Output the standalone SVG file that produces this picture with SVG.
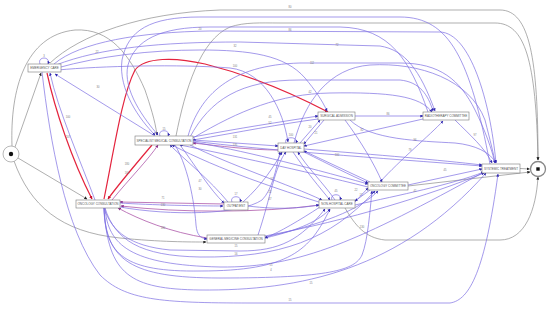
<svg xmlns="http://www.w3.org/2000/svg" width="550" height="309" viewBox="0 0 550 309">
<defs>
<style>
.e{fill:none;stroke-width:0.7}
.b{stroke:#7d6fe2}
.p{stroke:#a2409e}
.r{stroke:#e4243e;stroke-width:1.2}
.g{stroke:#8c8c8c}
.n rect{fill:#fff;stroke:#7a7a7a;stroke-width:0.6}
.n text{font-family:"Liberation Sans",Arial,sans-serif;font-size:3px;fill:#555;text-anchor:middle;dominant-baseline:central}
.l{font-family:"Liberation Sans",Arial,sans-serif;font-size:2.6px;fill:#777;text-anchor:middle}
</style>
<marker id="ab" viewBox="0 0 10 10" refX="9" refY="5" markerWidth="3" markerHeight="3" markerUnits="userSpaceOnUse" orient="auto"><path d="M0,0L10,5L0,10z" fill="#2f27b0"/></marker>
<marker id="ap" viewBox="0 0 10 10" refX="9" refY="5" markerWidth="3" markerHeight="3" markerUnits="userSpaceOnUse" orient="auto"><path d="M0,0L10,5L0,10z" fill="#8a2c8a"/></marker>
<marker id="ar" viewBox="0 0 10 10" refX="9" refY="5" markerWidth="3.4" markerHeight="3.4" markerUnits="userSpaceOnUse" orient="auto"><path d="M0,0L10,5L0,10z" fill="#c8102e"/></marker>
<marker id="ag" viewBox="0 0 10 10" refX="9" refY="5" markerWidth="3" markerHeight="3" markerUnits="userSpaceOnUse" orient="auto"><path d="M0,0L10,5L0,10z" fill="#222"/></marker>
</defs>
<rect width="550" height="309" fill="#fff"/>
<g id="connectors">
<!-- gray -->
<path class="e g" d="M15,147 L41,73" marker-end="url(#ag)"/>
<path class="e g" d="M12,146 C10,90 25,35 75,30 C110,28 130,55 145,90 C150,105 155,120 157,135" marker-end="url(#ag)"/>
<path class="e g" d="M18,158 L87,199" marker-end="url(#ag)"/>
<path class="e g" d="M14,161 C30,205 60,232 120,238 C160,242 190,242 206,242" marker-end="url(#ag)"/>
<path class="e g" d="M176,136 C185,90 200,40 230,27 C245,22 260,23 280,23 L495,23 C525,23 536,60 538,160" marker-end="url(#ag)"/>
<path class="e g" d="M50,63 C80,35 140,13 220,10 L500,10 C530,10 538,60 538,160" marker-end="url(#ag)"/>
<path class="e g" d="M345,208 C355,225 365,238 385,240 L500,240 C525,240 536,210 538,177" marker-end="url(#ag)"/>
<path class="e g" d="M408,186 L530,172" marker-end="url(#ag)"/>
<path class="e g" d="M520,168.5 L529.5,169" marker-end="url(#ag)"/>
<!-- red -->
<path class="e r" d="M47,73 C55,110 72,160 92,199" marker-end="url(#ar)"/>
<path class="e r" d="M104,199 C114,150 122,95 135,70 C145,57 175,57 205,64 C245,74 290,92 328,112" marker-end="url(#ar)"/>
<path class="e r" d="M152,145 C135,165 118,185 108,199" marker-end="url(#ar)"/>
<!-- purple -->
<path class="e p" d="M112,200 C130,178 148,160 158,145" marker-end="url(#ap)"/>
<path class="e p" d="M278,150 C250,150 220,146 193,143" marker-end="url(#ap)"/>
<path class="e p" d="M224,204 L120,202" marker-end="url(#ap)"/>
<path class="e p" d="M320,205 C260,213 180,213 121,206" marker-end="url(#ap)"/>
<path class="e p" d="M207,238 C170,232 140,220 118,208" marker-end="url(#ap)"/>
<!-- blue -->
<path class="e b" d="M54,64 C80,42 140,32 210,31 L440,32 C470,33 490,100 496,163" marker-end="url(#ab)"/>
<path class="e b" d="M56,65 C100,48 160,42 240,42 L380,46 C405,50 420,70 435,111" marker-end="url(#ab)"/>
<path class="e b" d="M57,68 C100,56 150,50 200,50 C250,50 285,55 305,78 C315,90 322,100 327,111" marker-end="url(#ab)"/>
<path class="e b" d="M58,70 C100,66 180,64 230,68 C265,72 283,110 288,142" marker-end="url(#ab)"/>
<path class="e b" d="M40,64 C37,56 51,56 48,64" marker-end="url(#ab)"/>
<path class="e b" d="M42,72 C50,140 65,230 100,275 C125,300 160,303 250,303 L450,303 C470,300 485,270 498,174" marker-end="url(#ab)"/>
<path class="e b" d="M95,200 C80,160 58,110 50,73" marker-end="url(#ab)"/>
<path class="e b" d="M155,136 L55,74" marker-end="url(#ab)"/>
<path class="e b" d="M490,164 C470,60 450,17 400,17 L200,17 C150,17 128,30 122,60 C118,90 140,120 155,135" marker-end="url(#ab)"/>
<path class="e b" d="M428,112 C410,60 390,28 340,27 L210,27 C160,27 135,40 128,65 C122,90 145,120 158,135" marker-end="url(#ab)"/>
<path class="e b" d="M193,137 C240,128 280,122 318,116" marker-end="url(#ab)"/>
<path class="e b" d="M318,119 C280,124 240,132 193,140" marker-end="url(#ab)"/>
<path class="e b" d="M193,138 C240,110 280,94 330,93 C390,92 420,96 432,112" marker-end="url(#ab)"/>
<path class="e b" d="M190,137 C210,100 240,80 300,80 L400,80 C420,82 428,95 433,111" marker-end="url(#ab)"/>
<path class="e b" d="M188,136 C200,95 230,65 300,63 L400,63 C440,63 460,80 475,110 C485,130 492,150 495,163" marker-end="url(#ab)"/>
<path class="e b" d="M193,140 L278,146" marker-end="url(#ab)"/>
<path class="e b" d="M193,142 C240,150 300,165 368,184" marker-end="url(#ab)"/>
<path class="e b" d="M193,141 C260,150 380,158 482,166" marker-end="url(#ab)"/>
<path class="e b" d="M190,145 C230,165 290,185 322,200" marker-end="url(#ab)"/>
<path class="e b" d="M180,145 C195,165 210,190 224,203" marker-end="url(#ab)"/>
<path class="e b" d="M175,145 C190,170 195,210 196,225 C197,235 200,238 207,239" marker-end="url(#ab)"/>
<path class="e b" d="M160,136 C157,129 171,129 168,136" marker-end="url(#ab)"/>
<path class="e b" d="M322,203 C280,190 220,170 172,145" marker-end="url(#ab)"/>
<path class="e b" d="M368,187 C300,170 230,155 180,145" marker-end="url(#ab)"/>
<path class="e b" d="M228,202 C210,180 185,160 170,145" marker-end="url(#ab)"/>
<path class="e b" d="M286,143 C283,136 299,136 296,143" marker-end="url(#ab)"/>
<path class="e b" d="M300,143 L320,120" marker-end="url(#ab)"/>
<path class="e b" d="M324,120 L304,144" marker-end="url(#ab)"/>
<path class="e b" d="M423,119 L304,146" marker-end="url(#ab)"/>
<path class="e b" d="M304,149 C380,155 440,160 482,165" marker-end="url(#ab)"/>
<path class="e b" d="M370,182 L304,151" marker-end="url(#ab)"/>
<path class="e b" d="M304,152 C330,165 350,175 368,183" marker-end="url(#ab)"/>
<path class="e b" d="M335,200 C325,185 305,165 298,152" marker-end="url(#ab)"/>
<path class="e b" d="M293,152 C305,170 320,188 330,200" marker-end="url(#ab)"/>
<path class="e b" d="M243,202 C262,185 275,165 282,152" marker-end="url(#ab)"/>
<path class="e b" d="M258,235 C270,200 275,165 286,152" marker-end="url(#ab)"/>
<path class="e b" d="M120,207 C170,216 240,215 262,200 C272,190 276,170 280,152" marker-end="url(#ab)"/>
<path class="e b" d="M294,143 C305,100 330,68 370,65 C420,62 470,80 485,120 C490,140 494,155 495,163" marker-end="url(#ab)"/>
<path class="e b" d="M120,203 C150,205 200,206 223,206" marker-end="url(#ab)"/>
<path class="e b" d="M104,208 C112,232 130,246 170,250 L240,251 C280,251 300,240 325,209" marker-end="url(#ab)"/>
<path class="e b" d="M105,208 C115,240 140,256 200,257 C280,258 330,240 375,191" marker-end="url(#ab)"/>
<path class="e b" d="M105,208 C108,245 130,265 220,267 C300,268 360,240 484,172" marker-end="url(#ab)"/>
<path class="e b" d="M104,208 C105,255 125,272 200,271 C290,271 310,250 330,209" marker-end="url(#ab)"/>
<path class="e b" d="M104,208 C106,260 130,278 220,278 C330,278 355,270 362,255 C368,240 370,210 372,191" marker-end="url(#ab)"/>
<path class="e b" d="M104,208 C108,275 130,289 200,290 C300,291 400,270 486,173" marker-end="url(#ab)"/>
<path class="e b" d="M265,238 C300,230 320,220 330,209" marker-end="url(#ab)"/>
<path class="e b" d="M265,237 C320,225 360,210 378,191" marker-end="url(#ab)"/>
<path class="e b" d="M265,236 C350,220 430,195 484,173" marker-end="url(#ab)"/>
<path class="e b" d="M320,207 C300,220 280,232 265,238" marker-end="url(#ab)"/>
<path class="e b" d="M332,200 C329,193 343,193 340,200" marker-end="url(#ab)"/>
<path class="e b" d="M355,202 L368,188" marker-end="url(#ab)"/>
<path class="e b" d="M370,190 L355,201" marker-end="url(#ab)"/>
<path class="e b" d="M355,205 C400,195 450,185 484,172" marker-end="url(#ab)"/>
<path class="e b" d="M408,185 L482,169" marker-end="url(#ab)"/>
<path class="e b" d="M380,182 C400,160 430,135 443,121" marker-end="url(#ab)"/>
<path class="e b" d="M345,120 C360,140 375,165 382,182" marker-end="url(#ab)"/>
<path class="e b" d="M350,120 C370,140 420,141 455,143 C475,145 490,152 496,163" marker-end="url(#ab)"/>
<path class="e b" d="M455,120 C470,135 485,148 492,163" marker-end="url(#ab)"/>
<path class="e b" d="M355,116 L423,116" marker-end="url(#ab)"/>
<path class="e b" d="M232,202 C229,195 243,195 240,202" marker-end="url(#ab)"/>
<path class="e b" d="M248,206 C280,210 300,208 319,205" marker-end="url(#ab)"/>
</g>
<g id="edge-labels">
<text class="l" x="290" y="8">80</text>
<text class="l" x="200" y="30">20</text>
<text class="l" x="290" y="31">86</text>
<text class="l" x="235" y="47">32</text>
<text class="l" x="337" y="46">72</text>
<text class="l" x="235" y="67">100</text>
<text class="l" x="312" y="64">112</text>
<text class="l" x="310" y="93">42</text>
<text class="l" x="97" y="53">22</text>
<text class="l" x="98" y="88">30</text>
<text class="l" x="44" y="57">3</text>
<text class="l" x="68" y="118">100</text>
<text class="l" x="68" y="138">207</text>
<text class="l" x="164" y="130">15</text>
<text class="l" x="270" y="118">45</text>
<text class="l" x="270" y="124">52</text>
<text class="l" x="235" y="138">131</text>
<text class="l" x="235" y="146">135</text>
<text class="l" x="291" y="136">100</text>
<text class="l" x="310" y="128">20</text>
<text class="l" x="316" y="134">21</text>
<text class="l" x="388" y="115">86</text>
<text class="l" x="362" y="131">82</text>
<text class="l" x="415" y="141">96</text>
<text class="l" x="475" y="136">97</text>
<text class="l" x="410" y="151">79</text>
<text class="l" x="337" y="156">100</text>
<text class="l" x="127" y="165">180</text>
<text class="l" x="127" y="174">160</text>
<text class="l" x="163" y="199">71</text>
<text class="l" x="163" y="206">130</text>
<text class="l" x="163" y="229">180</text>
<text class="l" x="200" y="182">47</text>
<text class="l" x="200" y="190">30</text>
<text class="l" x="236" y="195">17</text>
<text class="l" x="272" y="180">57</text>
<text class="l" x="270" y="193">22</text>
<text class="l" x="270" y="200">47</text>
<text class="l" x="336" y="192">45</text>
<text class="l" x="356" y="191">22</text>
<text class="l" x="361" y="196">17</text>
<text class="l" x="415" y="192">41</text>
<text class="l" x="445" y="171">45</text>
<text class="l" x="236" y="247">15</text>
<text class="l" x="236" y="255">16</text>
<text class="l" x="271" y="266">15</text>
<text class="l" x="271" y="271">4</text>
<text class="l" x="311" y="284">15</text>
<text class="l" x="290" y="301">15</text>
<text class="l" x="362" y="228">130</text>
</g>
<g id="start"><circle cx="11" cy="154" r="8" fill="#fff" stroke="#888" stroke-width="0.6"/><circle cx="11" cy="154" r="2.2" fill="#111"/></g>
<g id="end"><circle cx="538" cy="169" r="7.5" fill="#fff" stroke="#888" stroke-width="1.3"/><rect x="536.3" y="167.3" width="3.4" height="3.4" fill="#111"/></g>
<g id="emergency-care" class="n"><rect x="28" y="64" width="33" height="8"/><text x="44.5" y="68">EMERGENCY CARE</text></g>
<g id="specialist-medical-consultation" class="n"><rect x="135" y="136" width="58" height="9"/><text x="164" y="140.5">SPECIALIST MEDICAL CONSULTATION</text></g>
<g id="surgical-admission" class="n"><rect x="318" y="112" width="37" height="8"/><text x="336.5" y="116">SURGICAL ADMISSION</text></g>
<g id="radiotherapy" class="n"><rect x="423" y="112" width="46" height="8"/><text x="446" y="116">RADIOTHERAPY COMMITTEE</text></g>
<g id="day-hospital" class="n"><rect x="278" y="143" width="26" height="9"/><text x="291" y="147.5">DAY HOSPITAL</text></g>
<g id="outpatient" class="n"><rect x="224" y="202" width="24" height="8"/><text x="236" y="206">OUTPATIENT</text></g>
<g id="general-medicine-consultation" class="n"><rect x="207" y="235" width="58" height="8"/><text x="236" y="239">GENERAL MEDICINE CONSULTATION</text></g>
<g id="oncology-consultation" class="n"><rect x="76" y="200" width="44" height="8"/><text x="98" y="204">ONCOLOGY CONSULTATION</text></g>
<g id="non-hospital-care" class="n"><rect x="319" y="200" width="36" height="8"/><text x="337" y="204">NON-HOSPITAL CARE</text></g>
<g id="oncology-committee" class="n"><rect x="368" y="182" width="40" height="8"/><text x="388" y="186">ONCOLOGY COMMITTEE</text></g>
<g id="systemic-treatment" class="n"><rect x="482" y="164" width="38" height="9"/><text x="501" y="168.5">SYSTEMIC TREATMENT</text></g>
</svg>
